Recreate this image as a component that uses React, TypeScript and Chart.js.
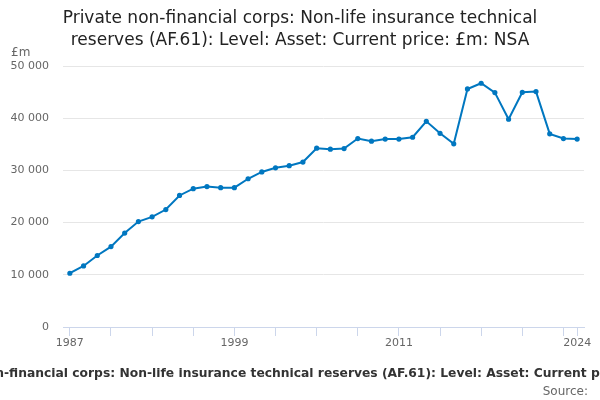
import React, { useEffect, useRef } from "react";
import { Chart, registerables } from "chart.js";

Chart.register(...registerables);

const years: number[] = [
  1987, 1988, 1989, 1990, 1991, 1992, 1993, 1994, 1995, 1996, 1997, 1998, 1999,
  2000, 2001, 2002, 2003, 2004, 2005, 2006, 2007, 2008, 2009, 2010, 2011, 2012,
  2013, 2014, 2015, 2016, 2017, 2018, 2019, 2020, 2021, 2022, 2023, 2024,
];
const values: number[] = [
  10300, 11700, 13700, 15400, 18000, 20200, 21100, 22500, 25200, 26500, 26900,
  26700, 26700, 28400, 29700, 30500, 30900, 31600, 34250, 34060, 34180, 36100,
  35600, 36000, 36000, 36350, 39400, 37100, 35100, 45600, 46700, 44900, 39800,
  44960, 45100, 37000, 36100, 36000,
];
const xTickValues: number[] = [1987, 1990, 1993, 1996, 1999, 2002, 2005, 2008, 2011, 2014, 2017, 2020, 2023, 2024];
const xLabelYears: number[] = [1987, 1999, 2011, 2024];
const titleLines: string[] = [
  "Private non-financial corps: Non-life insurance technical",
  "reserves (AF.61): Level: Asset: Current price: £m: NSA",
];
const footerText = "Private non-financial corps: Non-life insurance technical reserves (AF.61): Level: Asset: Current price: £m: NSA";
const sourceText = "Source:";
const unitText = "£m";

const FONT = "'DejaVu Sans', sans-serif";

const textPlugin = {
  id: "textPlugin",
  afterDraw(chart: any) {
    const ctx = chart.ctx as CanvasRenderingContext2D;
    ctx.save();
    ctx.fillStyle = "#222";
    ctx.font = `17px ${FONT}`;
    ctx.textAlign = "center";
    ctx.textBaseline = "middle";
    ctx.fillText(titleLines[0], 300, 19);
    ctx.fillText(titleLines[1], 300, 41);

    ctx.fillStyle = "#666";
    ctx.font = `12px ${FONT}`;
    ctx.textAlign = "left";
    ctx.fillText(unitText, 11, 53);

    ctx.fillStyle = "#333";
    ctx.font = `bold 12.3px ${FONT}`;
    ctx.textAlign = "center";
    ctx.fillText(footerText, 309, 374);

    ctx.fillStyle = "#666";
    ctx.font = `12px ${FONT}`;
    ctx.textAlign = "right";
    ctx.fillText(sourceText, 588, 392);
    ctx.restore();
  },
};

export default function App() {
  const ref = useRef<HTMLCanvasElement | null>(null);
  useEffect(() => {
    if (!ref.current) return;
    const chart = new Chart(ref.current, {
      type: "line",
      data: {
        datasets: [
          {
            data: years.map((y, i) => ({ x: y, y: values[i] })),
            borderColor: "#0077c0",
            backgroundColor: "#0077c0",
            borderWidth: 2,
            pointRadius: 1.6,
            pointHoverRadius: 2,
            tension: 0,
          },
        ],
      },
      options: {
        animation: false,
        responsive: false,
        devicePixelRatio: 1,
        layout: { padding: { top: 66, left: 0, right: 16, bottom: 0 } },
        plugins: {
          legend: { display: false },
          title: { display: false },
          tooltip: { enabled: false },
        },
        scales: {
          x: {
            type: "linear",
            min: 1986.5,
            max: 2024.5,
            afterBuildTicks(scale: any) {
              scale.ticks = xTickValues.map((v) => ({ value: v }));
            },
            afterFit(scale: any) {
              scale.height = 73;
            },
            grid: {
              drawOnChartArea: false,
              drawTicks: true,
              tickLength: 9,
              color: "#ccd6eb",
            },
            border: { display: true, color: "#ccd6eb", width: 1 },
            ticks: {
              autoSkip: false,
              maxRotation: 0,
              padding: 1,
              color: "#666",
              font: { family: FONT, size: 11 },
              callback: (v: any) => (xLabelYears.includes(Number(v)) ? String(v) : ""),
            },
          },
          y: {
            min: 0,
            max: 50000,
            afterFit(scale: any) {
              scale.width = 63;
            },
            ticks: {
              stepSize: 10000,
              padding: 14,
              color: "#666",
              font: { family: FONT, size: 11 },
              callback: (v: any) => String(v).replace(/\B(?=(\d{3})+(?!\d))/g, " "),
            },
            grid: { color: "#e6e6e6", drawTicks: false },
            border: { display: false },
          },
        },
      },
      plugins: [textPlugin],
    });
    return () => chart.destroy();
  }, []);
  return (
    <div style={{ position: "absolute", left: 0, top: 0, width: 600, height: 400, background: "#fff" }}>
      <canvas ref={ref} width={600} height={400} style={{ width: 600, height: 400 }} />
    </div>
  );
}
